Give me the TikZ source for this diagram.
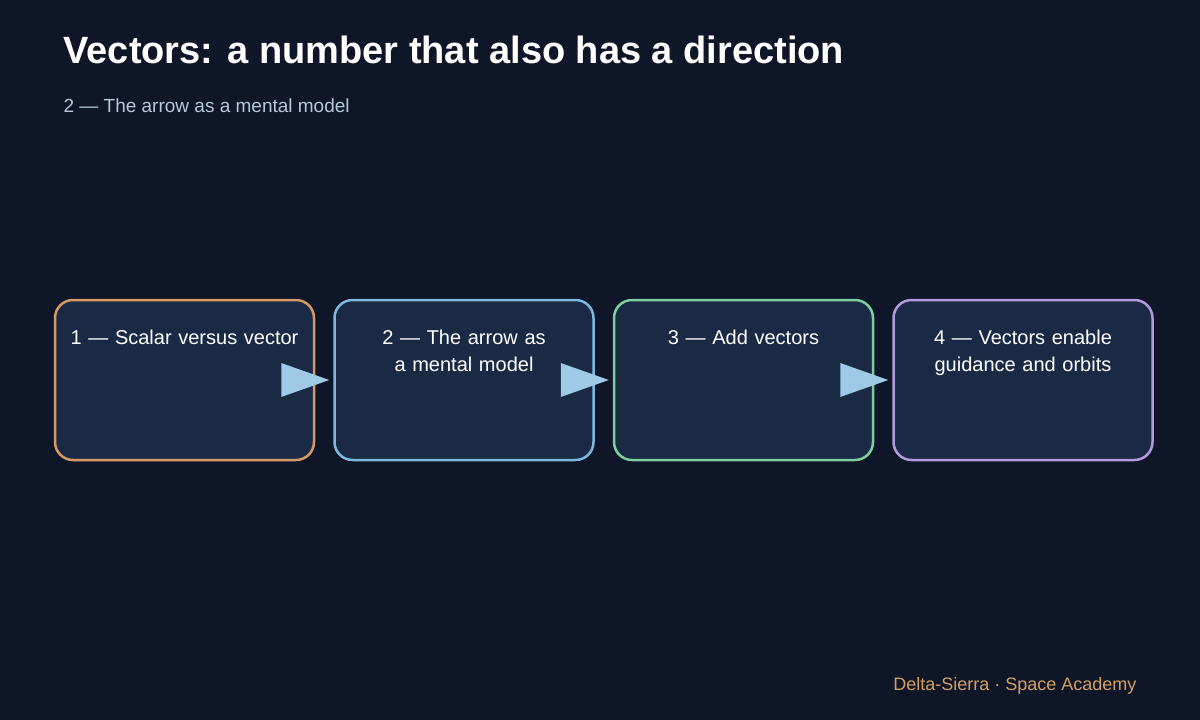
\documentclass[tikz,border=0pt]{standalone}
\usepackage{fontspec}
\setmainfont{Liberation Sans}
\usetikzlibrary{positioning,calc}
\definecolor{bgcol}{HTML}{0E1628}
\definecolor{boxfill}{HTML}{1A2A45}
\definecolor{cOne}{HTML}{D49A64}
\definecolor{cTwo}{HTML}{7AB8E0}
\definecolor{cThree}{HTML}{7CCF9C}
\definecolor{cFour}{HTML}{B39AE0}
\definecolor{arrowcol}{HTML}{9ECAE6}
\definecolor{subcol}{HTML}{B8C8DC}
\definecolor{footcol}{HTML}{D4A060}
\tikzset{
  step/.style={draw=#1,line width=2.5pt,fill=boxfill,rounded corners=18pt,
    minimum width=259pt,minimum height=160pt,inner sep=0pt},
  steptext/.style={text=white,font=\fontsize{20}{27}\selectfont,align=center,
    text width=230pt,anchor=north}
}
\begin{document}
\begin{tikzpicture}[x=1pt,y=-1pt]
\fill[bgcol] (0,0) rectangle (1200,720);
\useasboundingbox (0,0) rectangle (1200,720);

\node[anchor=base west,text=white,font=\fontsize{38}{40}\selectfont\bfseries] (title) at (60,63) {Vectors: a number that also has a direction};
\node[anchor=base west,text=subcol,font=\fontsize{19}{22}\selectfont] (sub) at (60,112) {2 — The arrow as a mental model};

\node[step=cOne] (s1) at (184.5,380) {};
\node[step=cTwo,right=18pt of s1] (s2) {};
\node[step=cThree,right=18pt of s2] (s3) {};
\node[step=cFour,right=18pt of s3] (s4) {};

\node[steptext] (t1) at ($(s1.north)+(0,28)$) {1 — Scalar versus vector};
\node[steptext] (t2) at ($(s2.north)+(0,28)$) {2 — The arrow as a mental model};
\node[steptext] (t3) at ($(s3.north)+(0,28)$) {3 — Add vectors};
\node[steptext] (t4) at ($(s4.north)+(0,28)$) {4 — Vectors enable guidance and orbits};

\foreach \a/\b in {s1/s2,s2/s3,s3/s4}
  \fill[arrowcol] ($(\a.east)+(-34,-17)$) -- ($(\b.west)+(-4,0)$) -- ($(\a.east)+(-34,17)$) -- cycle;

\node[anchor=base east,text=footcol,font=\fontsize{18}{20}\selectfont] (foot) at (1140,690) {Delta-Sierra · Space Academy};
\end{tikzpicture}
\end{document}
